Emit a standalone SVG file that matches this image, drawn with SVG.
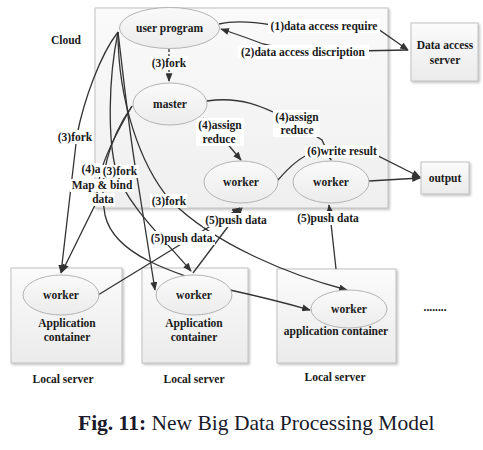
<svg xmlns="http://www.w3.org/2000/svg" width="483" height="450" viewBox="0 0 483 450">
<style>
.t{font-family:'Liberation Serif','Times New Roman',serif;font-weight:bold;font-size:11.5px;fill:#1a1a1a;text-anchor:middle}
.bg{fill:#ffffff}
.c{fill:none;stroke:#333;stroke-width:1.3}
.a{marker-end:url(#arr)}
.box{fill:url(#gBox);stroke:#c2c2c2;stroke-width:1}
.ell{fill:url(#gEll);stroke:#b3b3b3;stroke-width:1}
</style>
<defs>
<linearGradient id="gBox" x1="0" y1="0" x2="0" y2="1"><stop offset="0" stop-color="#fbfbfb"/><stop offset="1" stop-color="#ebebeb"/></linearGradient>
<linearGradient id="gCloud" x1="0" y1="0" x2="0" y2="1"><stop offset="0" stop-color="#fafafa"/><stop offset="1" stop-color="#efefef"/></linearGradient>
<linearGradient id="gEll" x1="0" y1="0" x2="0" y2="1"><stop offset="0" stop-color="#fafafa"/><stop offset="1" stop-color="#ececec"/></linearGradient>
<filter id="sh" x="-10%" y="-10%" width="130%" height="130%"><feDropShadow dx="1.5" dy="1.5" stdDeviation="1" flood-color="#888" flood-opacity="0.5"/></filter>
<marker id="arr" viewBox="0 0 10 8" refX="9" refY="4" markerWidth="9" markerHeight="7" markerUnits="userSpaceOnUse" orient="auto"><path d="M0,0 L10,4 L0,8 Z" fill="#333"/></marker>
</defs>
<rect width="483" height="450" fill="#fff"/>
<g font-family="'Liberation Serif','Times New Roman',serif">
<g id="cloud">
<rect x="95" y="8" width="293" height="200" fill="url(#gCloud)" stroke="#c2c2c2" filter="url(#sh)"/>
<text class="t" x="66" y="44">Cloud</text>
</g>
<g id="data-access-server">
<rect class="box" x="411" y="23" width="67" height="58" filter="url(#sh)"/>
<text class="t" x="445" y="49">Data access</text>
<text class="t" x="445" y="64">server</text>
</g>
<g id="output">
<rect class="box" x="421" y="162" width="48" height="32" filter="url(#sh)"/>
<text class="t" x="445" y="182">output</text>
</g>
<g id="local-server-1">
<rect class="box" x="11" y="268" width="111" height="95" filter="url(#sh)"/>
<text class="t" x="67" y="327">Application</text>
<text class="t" x="67" y="341">container</text>
<text class="t" x="63" y="383">Local server</text>
</g>
<g id="local-server-2">
<rect class="box" x="142" y="268" width="106" height="95" filter="url(#sh)"/>
<text class="t" x="194" y="327">Application</text>
<text class="t" x="194" y="341">container</text>
<text class="t" x="194" y="383">Local server</text>
</g>
<g id="local-server-3">
<rect class="box" x="277" y="269" width="119" height="94" filter="url(#sh)"/>
<text class="t" x="336" y="335">application container</text>
<text class="t" x="335" y="381">Local server</text>
</g>

<g id="connectors">
<path class="c a" d="M169,49 L169,81" stroke-dasharray="3,2"/>
<path class="c a" d="M219,24 C235,20 255,22 272,25 L378,29 L408,50"/>
<path class="c a" d="M408,50 L300,52 L263,44 Q245,37 221,29"/>
<path class="c a" d="M207,101 C240,96 262,106 290,120 L322,140 L331,160"/>
<path class="c a" d="M203,118 L220,135 L241,160"/>
<path class="c a" d="M278,180 C290,166 300,157 312,153 L378,156 L420,177"/>
<path class="c a" d="M369,181 L420,178"/>
<path class="c a" d="M336,269 L329,205"/>
<path class="c a" d="M118,32 C100,55 84,100 77,135 L61,273"/>
<path class="c a" d="M118,32 C108,80 108,140 116,170 C126,205 165,240 191,271"/>
<path class="c a" d="M118,32 C118,100 140,165 170,200 C215,245 290,275 347,290"/>
<path class="c a" d="M118,32 C125,90 130,140 138,183 L155,290"/>
<path class="c a" d="M132,106 C118,130 105,155 100,175 L95,205 L62,272"/>
<path class="c a" d="M132,106 C108,140 98,180 105,215 C114,255 170,272 230,290 Q275,300 310,310"/>
<path class="c a" d="M98,295 L240,208"/>
<path class="c a" d="M193,273 L242,208"/>
</g>

<g id="labels">
<rect class="bg" x="151" y="56" width="37" height="14"/><text class="t" x="169" y="67">(3)fork</text>
<rect class="bg" x="268" y="19" width="112" height="14"/><text class="t" x="324" y="30">(1)data access require</text>
<rect class="bg" x="238" y="45" width="131" height="14"/><text class="t" x="303" y="56">(2)data access discription</text>
<rect class="bg" x="273" y="110" width="47" height="27"/><text class="t" x="297" y="121">(4)assign</text><text class="t" x="297" y="134">reduce</text>
<rect class="bg" x="196" y="118" width="48" height="28"/><text class="t" x="220" y="129">(4)assign</text><text class="t" x="219" y="143">reduce</text>
<rect class="bg" x="305" y="145" width="74" height="13"/><text class="t" x="342" y="155">(6)write result</text>
<rect class="bg" x="295" y="211" width="65" height="14"/><text class="t" x="328" y="222">(5)push data</text>
<rect class="bg" x="203" y="213" width="65" height="14"/><text class="t" x="236" y="224">(5)push data</text>
<rect class="bg" x="150" y="231" width="65" height="14"/><text class="t" x="183" y="242">(5)push data.</text>
<rect class="bg" x="150" y="194" width="37" height="14"/><text class="t" x="169" y="205">(3)fork</text>
<rect class="bg" x="80" y="163" width="22" height="14"/><text class="t" x="91" y="173">(4)a</text>
<rect class="bg" x="70" y="179" width="64" height="13"/><text class="t" x="102" y="189">Map &amp; bind</text>
<rect class="bg" x="90" y="193" width="25" height="13"/><text class="t" x="103" y="203">data</text>
<rect class="bg" x="102" y="165" width="37" height="13"/><text class="t" x="120" y="175">(3)fork</text>
<rect class="bg" x="55" y="130" width="39" height="14"/><text class="t" x="75" y="141">(3)fork</text>
</g>

<g id="user-program">
<ellipse class="ell" cx="169.5" cy="28" rx="50" ry="20.5"/>
<text class="t" x="169.5" y="32">user program</text>
</g>
<g id="master">
<ellipse class="ell" cx="170" cy="104" rx="37" ry="21"/>
<text class="t" x="170" y="108">master</text>
</g>
<g id="cloud-worker-1">
<ellipse class="ell" cx="241" cy="182" rx="37" ry="21"/>
<text class="t" x="241" y="186">worker</text>
</g>
<g id="cloud-worker-2">
<ellipse class="ell" cx="331" cy="182" rx="38" ry="21"/>
<text class="t" x="331" y="186">worker</text>
</g>
<g id="worker-1">
<ellipse class="ell" cx="61" cy="295" rx="38" ry="20"/>
<text class="t" x="61" y="299">worker</text>
</g>
<g id="worker-2">
<ellipse class="ell" cx="194" cy="295" rx="38" ry="20"/>
<text class="t" x="194" y="299">worker</text>
</g>
<g id="worker-3">
<ellipse class="ell" cx="349" cy="309" rx="38" ry="19"/>
<text class="t" x="349" y="313">worker</text>
</g>

<text class="t" x="435" y="311">........</text>
<text x="78" y="430" font-family="'Liberation Serif','Times New Roman',serif" font-size="21.5" fill="#1a1a2a"><tspan font-weight="bold">Fig. 11:</tspan> New Big Data Processing Model</text>
</g>
</svg>
